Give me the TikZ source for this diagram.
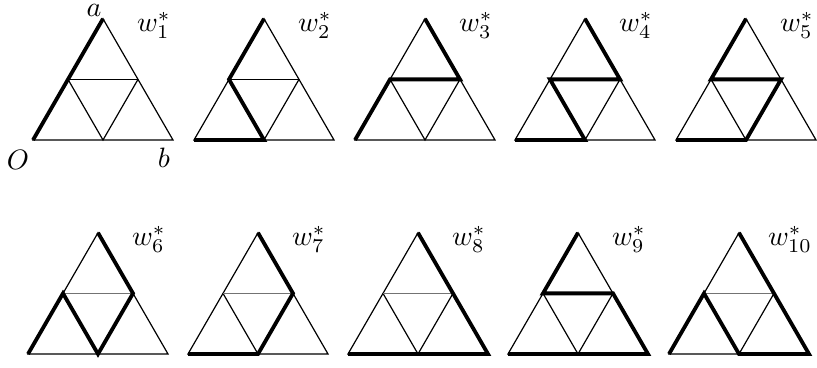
\documentclass[tikz,border=0pt]{standalone}
\usetikzlibrary{calc}
\tikzset{
  thinedge/.style={line width=1.2pt},
  thickedge/.style={line width=3.8pt, line join=miter},
  lbl/.style={inner sep=0pt, scale=2.8}
}
% #1 left x, #2 base y, #3 index, #4 thick path, #5 style of middle line
\newcommand\trifig[5]{%
  \begin{scope}[shift={(#1,#2)}]
    \coordinate (O) at (0,0);
    \coordinate (B) at (140,0);
    \coordinate (A) at (70,-121.24);
    \coordinate (M) at (70,0);
    \coordinate (L) at (35,-60.62);
    \coordinate (R) at (105,-60.62);
    \draw[thinedge] (O)--(A)--(B)--cycle;
    \draw[thinedge] (L)--(M)--(R);
    \draw[thinedge,#5] (L)--(R);
    \draw[thickedge] #4;
    \node[lbl] (w#3) at (121,-115) {$w_{#3}^*$};
  \end{scope}}
\begin{document}
\begin{tikzpicture}[x=1pt,y=-1pt]
  \useasboundingbox (0,0) rectangle (817,367);
  \trifig{33}{140}{1}{(A)--(O)}{}
  \trifig{194}{140}{2}{(A)--(L)--(M)--(O)}{}
  \trifig{355}{140}{3}{(A)--(R)--(L)--(O)}{}
  \trifig{515}{140}{4}{(A)--(R)--(L)--(M)--(O)}{}
  \trifig{676}{140}{5}{(A)--(L)--(R)--(M)--(O)}{}
  \trifig{28}{354}{6}{(A)--(R)--(M)--(L)--(O)}{draw=black!55}
  \trifig{188}{354}{7}{(A)--(R)--(M)--(O)}{draw=black!55}
  \trifig{348}{354}{8}{(A)--(B)--(O)}{draw=black!55}
  \trifig{508}{354}{9}{(A)--(L)--(R)--(B)--(O)}{}
  \trifig{669}{354}{10}{(A)--(B)--(M)--(L)--(O)}{draw=black!55}
  \node[lbl] (la) at (94,10.5) {$a$};
  \node[lbl] (lO) at (18,160) {$O$};
  \node[lbl] (lb) at (164,158) {$b$};
\end{tikzpicture}
\end{document}
